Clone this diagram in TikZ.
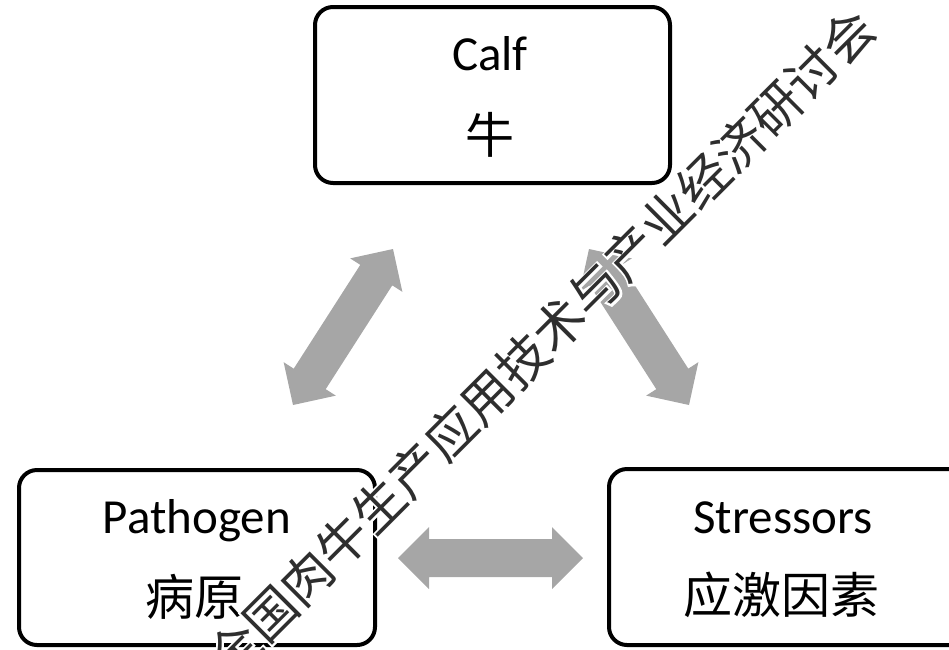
\documentclass[tikz,border=0pt]{standalone}
\usepackage{fontspec}
\setmainfont{Carlito}
\newfontfamily\cjk{Noto Sans CJK SC}
\newfontfamily\wmhalo[FakeBold=8]{Noto Sans CJK SC}
\usetikzlibrary{calc}
\definecolor{arrowgray}{HTML}{A6A6A6}
\definecolor{wmcol}{HTML}{2E2E2E}
\tikzset{
  boxstyle/.style={draw=black, line width=4pt, rounded corners=18pt, inner sep=0pt, fill=white},
  latin/.style={anchor=base, inner sep=0pt, font=\fontsize{49}{49}\selectfont},
  hanzi/.style={inner sep=0pt, font=\fontsize{49}{49}\selectfont\cjk},
  wmtext/.style={rotate=45, inner sep=0pt, text=wmcol, font=\fontsize{51}{51}\selectfont\cjk},
  wmhalostyle/.style={rotate=45, inner sep=0pt, text=white, font=\fontsize{51}{51}\selectfont\wmhalo}
}
\newcommand\dblarrow[2]{%
  \coordinate (ha) at ($(#1)!31pt!(#2)$);
  \coordinate (hb) at ($(#2)!31pt!(#1)$);
  \fill[arrowgray] (#1) -- ($(ha)!31pt!90:(#1)$) -- ($(ha)!19pt!90:(#1)$)
    -- ($(hb)!19pt!-90:(#2)$) -- ($(hb)!31pt!-90:(#2)$) -- (#2)
    -- ($(hb)!31pt!90:(#2)$) -- ($(hb)!19pt!90:(#2)$)
    -- ($(ha)!19pt!-90:(#1)$) -- ($(ha)!31pt!-90:(#1)$) -- cycle;}
\begin{document}
\begin{tikzpicture}[x=1pt,y=-1pt]
\useasboundingbox (0,0) rectangle (949,649);
\clip (0,0) rectangle (949,649);
% boxes
\node[boxstyle, minimum width=355pt, minimum height=176pt] (calf) at (492.5,95) {};
\node[boxstyle, minimum width=356pt, minimum height=175pt] (path) at (197,557.5) {};
\node[boxstyle, minimum width=371pt, minimum height=176pt] (stress) at (794.5,557) {};
% texts
\node[latin] (calfen) at (490,70) {Calf};
\node[hanzi] (calfzh) at (490,135) {牛};
\node[latin] (pathen) at (197,533) {Pathogen};
\node[hanzi] (pathzh) at (194,597) {病原};
\node[latin] (stressen) at (783,533) {Stressors};
\node[hanzi] (stresszh) at (781,595) {应激因素};
% arrow end points
\coordinate (lb) at (293,405);
\coordinate (lt) at (393,249);
\coordinate (rt) at (589,249);
\coordinate (rb) at (689,405);
\coordinate (hl) at (398,558);
\coordinate (hr) at (583,558);
\dblarrow{lb}{lt}
\dblarrow{rt}{rb}
\dblarrow{hl}{hr}
% watermark
\node[wmhalostyle] (wmhalo) at (541,343) {全国肉牛生产应用技术与产业经济研讨会};
\node[wmtext] (wm) at (541,343) {全国肉牛生产应用技术与产业经济研讨会};
\end{tikzpicture}
\end{document}
